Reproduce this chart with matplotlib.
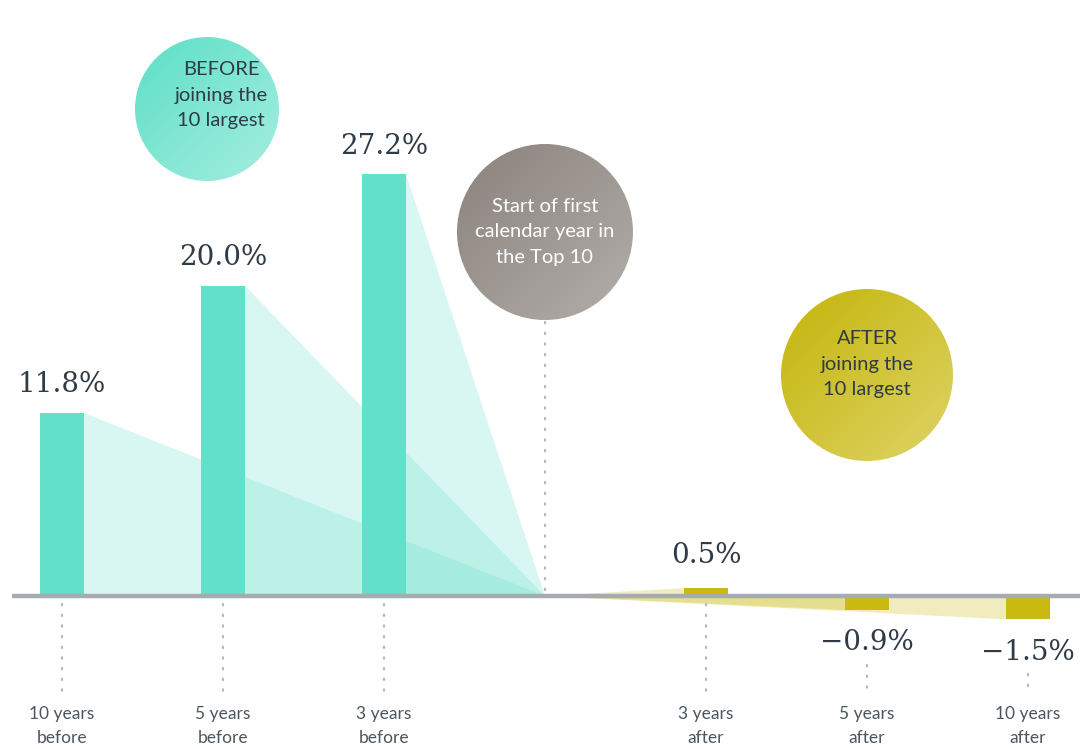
import matplotlib
matplotlib.use("Agg")
import matplotlib.pyplot as plt
import numpy as np
from matplotlib.patches import Polygon, Ellipse

# ---------------- data ----------------
before_labels = ["10 years\nbefore", "5 years\nbefore", "3 years\nbefore"]
before_values = [11.8, 20.0, 27.2]
after_labels = ["3 years\nafter", "5 years\nafter", "10 years\nafter"]
after_values = [0.5, -0.9, -1.5]
value_texts_before = ["11.8%", "20.0%", "27.2%"]
value_texts_after = ["0.5%", "\u22120.9%", "\u22121.5%"]
center_text = "Start of first\ncalendar year in\nthe Top 10"
before_bubble = "BEFORE\njoining the\n10 largest"
after_bubble = "AFTER\njoining the\n10 largest"

# ---------------- style ----------------
TEAL = "#63e0c9"
GOLD = "#c9b910"
TEXT = "#2f3b46"
LABEL = "#4b5660"
AXIS = "#a6abb1"
DOT = "#b4b8bc"
SANS = ["Lato", "DejaVu Sans"]
SERIF = ["DejaVu Serif"]

W, H = 1080, 749
fig = plt.figure(figsize=(W / 100, H / 100), dpi=100)
ax = fig.add_axes([0, 0, 1, 1])
ax.set_axis_off()

# axis scaling: one category step = 161 px, 1% = 15.51 px
px_x = 161.0
px_y = 15.51
x0_px, y0_px = 62.0, 596.0


def dx(p):  # px -> data x
    return p / px_x


def dy(p):  # px -> data y
    return p / px_y


n_b = len(before_values)
xb = np.arange(n_b)
mid = n_b  # convergence point
xa = np.arange(len(after_values)) + mid + 1
bw = dx(44)

# wedges
for x, v in zip(xb, before_values):
    xr = x + bw / 2
    ax.add_patch(Polygon([(xr, v), (mid, 0), (xr, 0)], closed=True,
                         facecolor=TEAL, alpha=0.24, edgecolor="none", zorder=1))
for x, v in zip(xa, after_values):
    xl = x - bw / 2
    ax.add_patch(Polygon([(xl, v), (mid, 0), (xl, 0)], closed=True,
                         facecolor=GOLD, alpha=0.27, edgecolor="none", zorder=1))

# bars
ax.bar(xb, before_values, width=bw, color=TEAL, zorder=3)
ax.bar(xa, after_values, width=bw, color=GOLD, zorder=3)

# baseline
ax.plot([dx(12 - x0_px), dx(W - x0_px)], [0, 0], color=AXIS, lw=3.2, zorder=4,
        solid_capstyle="butt")

# value labels
for x, v, t in zip(xb, before_values, value_texts_before):
    ax.text(x, v + dy(28), t, ha="center", va="center", fontsize=20,
            family=SERIF, color=TEXT, zorder=5)
for x, v, t in zip(xa, after_values, value_texts_after):
    off = dy(33) if v >= 0 else -dy(33)
    ax.text(x, v + off, t, ha="center", va="center", fontsize=20,
            family=SERIF, color=TEXT, zorder=5)

# dotted guides and category labels
dot_kw = dict(color=DOT, lw=1.6, linestyle=(0, (0.6, 4.2)),
              dash_capstyle="round", zorder=2)
lab_y = -dy(713 - y0_px + 13)
for x, v, lab in zip(list(xb) + list(xa), before_values + after_values,
                     before_labels + after_labels):
    top = -dy(8)
    if v < 0:
        top = v - dy(33) - dy(22)
    ax.plot([x, x], [top, -dy(98)], **dot_kw)
    ax.text(x, lab_y, lab, ha="center", va="center", fontsize=12.5,
            family=SANS, color=LABEL, linespacing=1.55)

# vertical dotted line from centre circle
ax.plot([mid, mid], [dy(596 - 322), dy(6)], **dot_kw)


def gradient_circle(cx_px, cy_px, r_px, c1, c2, text, tcolor, tdx=0, tdy=0):
    cx = dx(cx_px - x0_px)
    cy = dy(y0_px - cy_px)
    rx, ry = dx(r_px), dy(r_px)
    ell = Ellipse((cx, cy), 2 * rx, 2 * ry, facecolor="none", edgecolor="none",
                  zorder=6)
    ax.add_patch(ell)
    n = 200
    gx, gy = np.meshgrid(np.linspace(0, 1, n), np.linspace(0, 1, n))
    t = (gx + gy) / 2.0  # top-left -> bottom-right
    a = np.array(matplotlib.colors.to_rgb(c1))
    b = np.array(matplotlib.colors.to_rgb(c2))
    img = a[None, None, :] * (1 - t[..., None]) + b[None, None, :] * t[..., None]
    im = ax.imshow(img, extent=(cx - rx, cx + rx, cy - ry, cy + ry),
                   origin="upper", aspect="auto", zorder=6, interpolation="bilinear")
    im.set_clip_path(ell)
    ax.text(cx + dx(tdx), cy - dy(tdy), text, ha="center", va="center",
            fontsize=14.5, family=SANS, color=tcolor, zorder=7, linespacing=1.62)


gradient_circle(207, 109, 72, "#5cdfc6", "#a6eee0", before_bubble, TEXT, tdx=14, tdy=-14)
gradient_circle(545, 232, 88, "#8a827d", "#b2aea9", center_text, "white")
gradient_circle(867, 375, 86, "#c4b509", "#ded366", after_bubble, TEXT, tdx=0, tdy=-11)

ax.set_xlim(-x0_px / px_x, (W - x0_px) / px_x)
ax.set_ylim(-(H - y0_px) / px_y, y0_px / px_y)

fig.savefig("out.png", dpi=100, facecolor="white")
